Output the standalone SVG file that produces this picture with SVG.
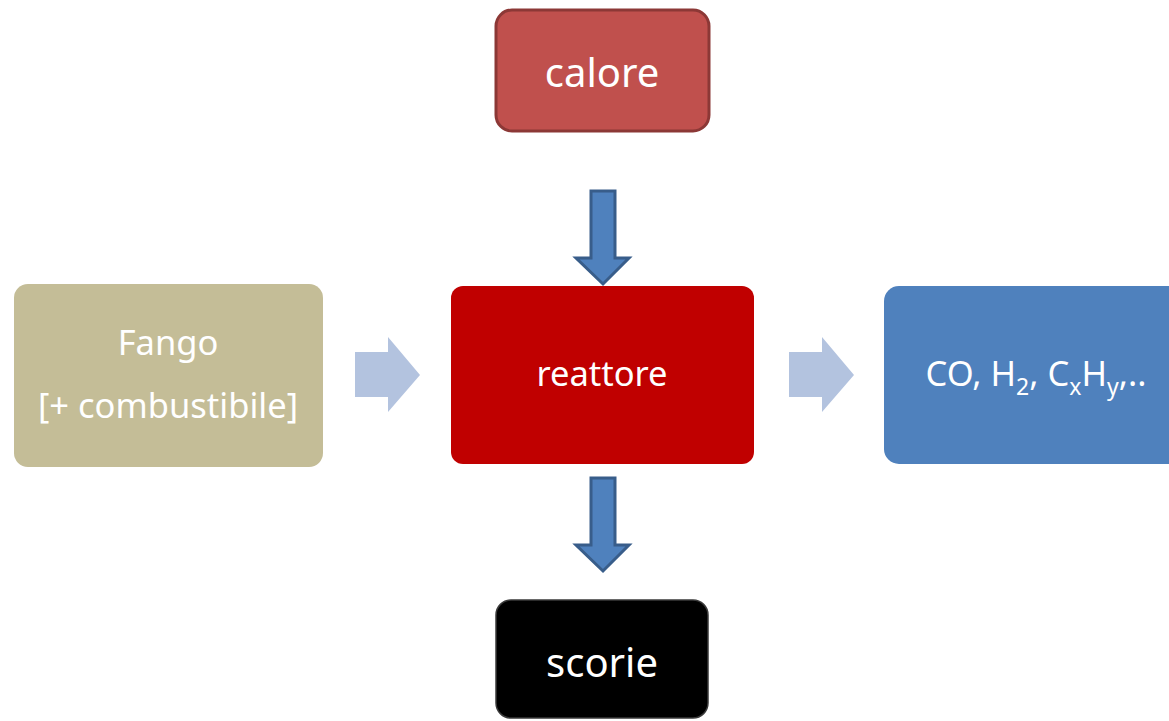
<svg xmlns="http://www.w3.org/2000/svg" width="1169" height="721" viewBox="0 0 1169 721">
<style>
text{font-family:"Noto Sans","Open Sans",sans-serif;fill:#fff;text-anchor:middle}
.big{font-size:40px}
.mid{font-size:34.5px}
.down{fill:#4f81bd;stroke:#385d8a;stroke-width:3;stroke-linejoin:miter}
.side{fill:#b3c3df}
</style>
<rect width="1169" height="721" fill="#fff"/>
<g id="calore">
<rect x="496" y="10" width="213" height="121" rx="16" fill="#c0504d" stroke="#8c3836" stroke-width="3"/>
<text class="big" x="602" y="87">calore</text>
</g>
<g id="reattore">
<rect x="451" y="286" width="303" height="178" rx="12" fill="#c00000"/>
<text class="mid" x="602" y="386">reattore</text>
</g>
<g id="fango">
<rect x="14" y="284" width="309" height="183" rx="14" fill="#c4bd97"/>
<text class="mid" x="168" y="355">Fango</text>
<text class="mid" x="168" y="418">[+ combustibile]</text>
</g>
<g id="prodotti">
<rect x="884" y="286" width="300" height="178" rx="15" fill="#4f81bd"/>
<text class="mid" x="1036" y="386" text-anchor="middle">CO, H<tspan font-size="23" dy="9">2</tspan><tspan dy="-9">, C</tspan><tspan font-size="23" dy="9">x</tspan><tspan dy="-9">H</tspan><tspan font-size="23" dy="9">y</tspan><tspan dy="-9">,..</tspan></text>
</g>
<g id="scorie">
<rect x="496" y="600" width="212" height="118" rx="15" fill="#000" stroke="#3a3a3a" stroke-width="1.5"/>
<text class="big" x="602" y="677">scorie</text>
</g>
<g id="connectors">
<polygon class="down" points="591,191 615,191 615,258 629,258 603,284 576,258 591,258"/>
<polygon class="down" points="591,478 615,478 615,545 629,545 603,571 576,545 591,545"/>
<polygon class="side" points="355,352 388,352 388,337 420,375 388,412 388,397 355,397"/>
<polygon class="side" points="789,352 822,352 822,337 854,375 822,412 822,397 789,397"/>
</g>
</svg>
